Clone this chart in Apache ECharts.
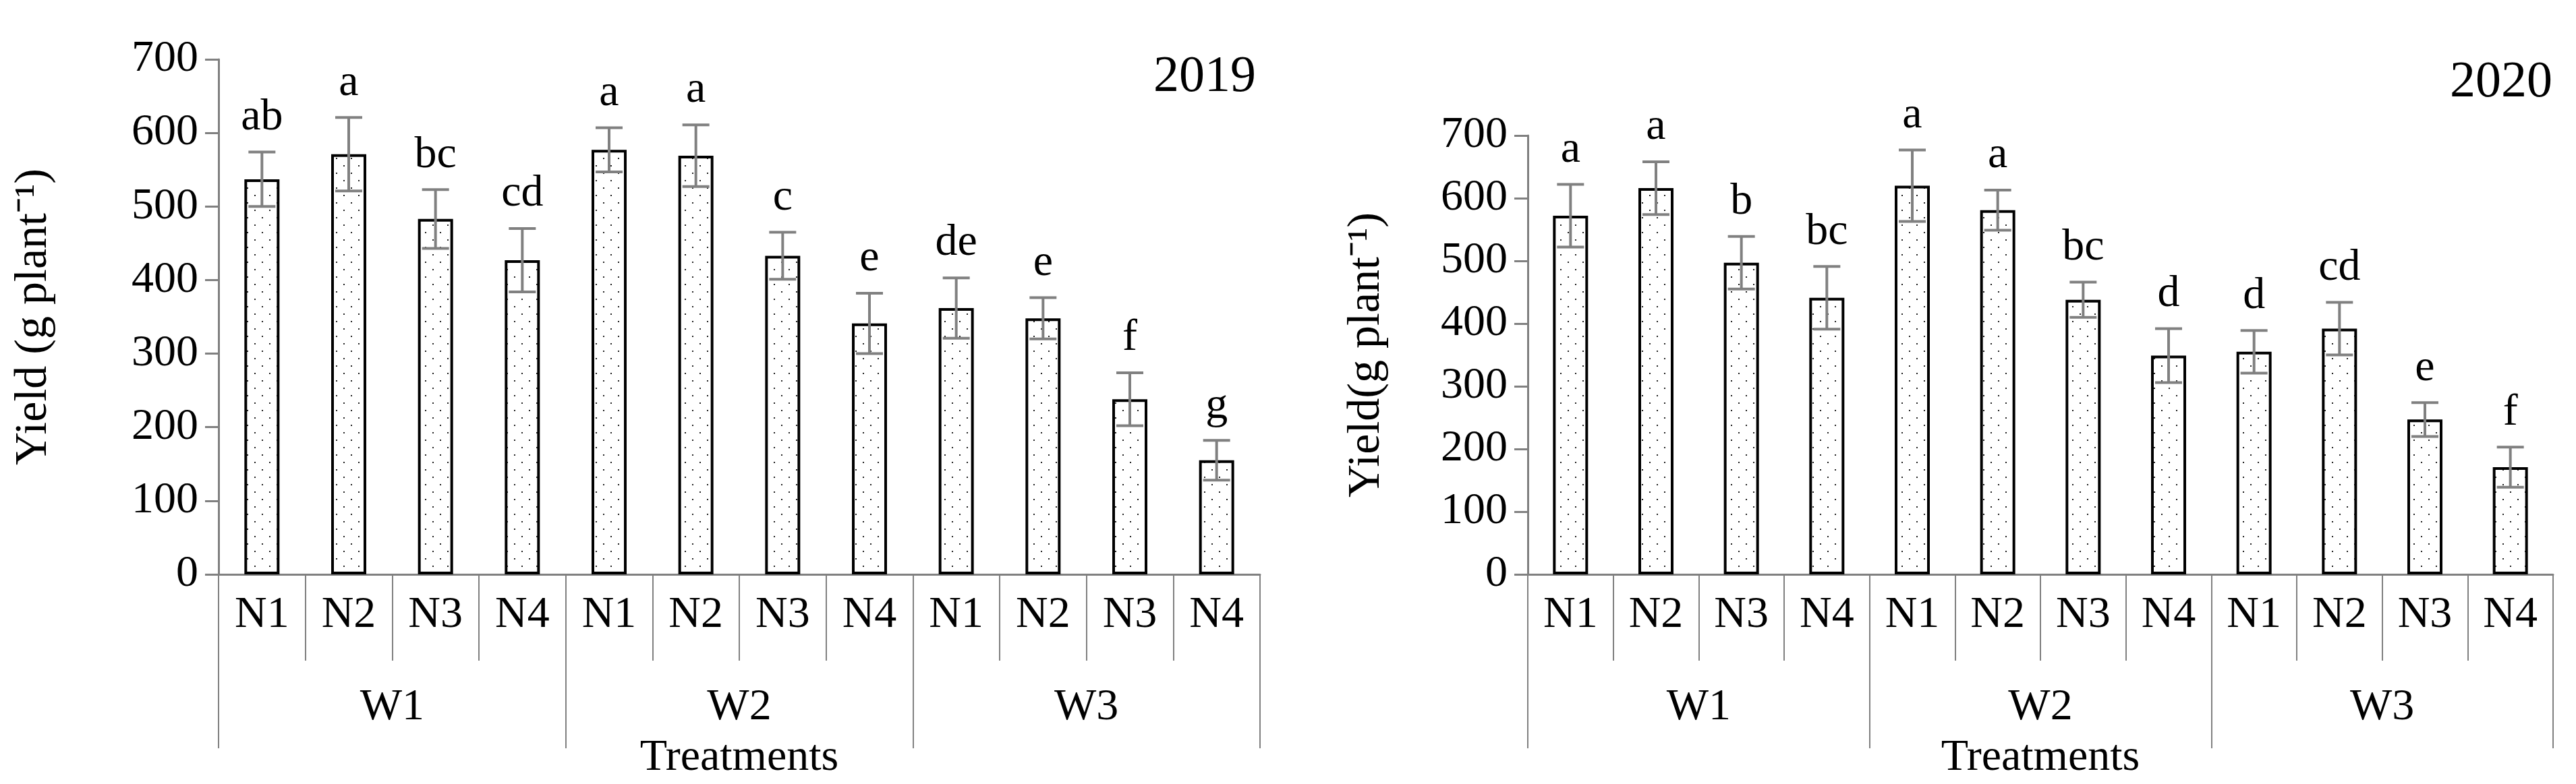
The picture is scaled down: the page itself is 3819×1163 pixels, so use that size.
<!DOCTYPE html>
<html><head><meta charset="utf-8">
<script src="https://cdn.jsdelivr.net/npm/echarts@6/dist/echarts.min.js"></script>
<style>html,body{margin:0;background:#fff}#c{width:3819px;height:1163px}</style>
</head><body><div id="c"></div>
<script>
const nLabels = ['N1','N2','N3','N4','N1','N2','N3','N4','N1','N2','N3','N4'];
const wLabels = ['W1','W2','W3'];
const y2019 = [537,571,483,427,577,569,433,341,362,348,238,155];
const e2019 = [37,50,40,43,30,42,32,41,41,28,36,27];
const l2019 = ['ab','a','bc','cd','a','a','c','e','de','e','f','g'];
const y2020 = [572,616,497,441,620,581,438,349,355,392,247,171];
const e2020 = [50,42,42,50,57,32,28,43,34,42,27,32];
const l2020 = ['a','a','b','bc','a','a','bc','d','d','cd','e','f'];

const FONT = 'Liberation Serif';
const FS = 66;
const pat = document.createElement('canvas');
pat.width = 22; pat.height = 22;
const pc = pat.getContext('2d');
pc.fillStyle = '#fff'; pc.fillRect(0,0,22,22);
pc.fillStyle = '#222'; pc.fillRect(3,3,2,2); pc.fillRect(14,14,2,2);

const chart = echarts.init(document.getElementById('c'));
const grids = [
  {left:324, right:1951, top:88, bottom:308},
  {left:2265, right:34, top:201, bottom:295}
];
const xAxis = [], yAxis = [], series = [];
[[y2019,e2019,l2019,'Yield (g plant⁻¹)'],[y2020,e2020,l2020,'Yield(g plant⁻¹)']].forEach((d,i)=>{
  xAxis.push({type:'category', gridIndex:i, data:nLabels, boundaryGap:true,
    axisLine:{show:true, lineStyle:{color:'#808080',width:3}},
    axisTick:{show:true, interval:0, length:128, lineStyle:{color:'#808080',width:2}},
    axisLabel:{show:true, interval:0, fontFamily:FONT, fontSize:FS, color:'#000', margin:28}});
  xAxis.push({type:'category', gridIndex:i, data:wLabels, position:'bottom', boundaryGap:true,
    axisLine:{show:false},
    axisTick:{show:true, interval:0, length:258, lineStyle:{color:'#808080',width:2}},
    axisLabel:{show:true, fontFamily:FONT, fontSize:FS, color:'#000', margin:165},
    name:'Treatments', nameLocation:'middle', nameGap:240,
    nameTextStyle:{fontFamily:FONT, fontSize:FS, color:'#000'}});
  yAxis.push({type:'value', gridIndex:i, min:0, max:700, interval:100,
    splitLine:{show:false},
    axisLine:{show:true, lineStyle:{color:'#808080',width:3}},
    axisTick:{show:true, length:20, lineStyle:{color:'#808080',width:3}},
    axisLabel:{fontFamily:FONT, fontSize:FS, color:'#000', margin:30},
    name:d[3], nameLocation:'middle', nameGap:i===0?240:205,
    nameTextStyle:{fontFamily:FONT, fontSize:68, color:'#000'}});
  series.push({type:'bar', xAxisIndex:i*2, yAxisIndex:i, data:d[0], barWidth:52,
    itemStyle:{color:{image:pat, repeat:'repeat'}, borderColor:'#000', borderWidth:4}});
  series.push({type:'custom', xAxisIndex:i*2, yAxisIndex:i,
    data:d[0].map((v,k)=>[k,v,d[1][k]]), z:5,
    renderItem:(p,api)=>{
      const x = api.coord([api.value(0),0])[0];
      const hi = api.coord([api.value(0),api.value(1)+api.value(2)])[1];
      const lo = api.coord([api.value(0),api.value(1)-api.value(2)])[1];
      const st = {stroke:'#808080', lineWidth:4};
      return {type:'group', children:[
        {type:'line', shape:{x1:x,y1:hi,x2:x,y2:lo}, style:st},
        {type:'line', shape:{x1:x-20,y1:hi,x2:x+20,y2:hi}, style:st},
        {type:'line', shape:{x1:x-20,y1:lo,x2:x+20,y2:lo}, style:st},
        {type:'text', x:x, y:hi-18, style:{text:d[2][api.value(0)] ?? '', fill:'#000',
          font:FS+'px "'+FONT+'"', align:'center', verticalAlign:'bottom'}}
      ]};
    }});
});
chart.setOption({
  animation:false,
  grid:grids, xAxis, yAxis, series,
  title:[
    {text:'2019', right:1952, top:72, textStyle:{fontFamily:FONT, fontSize:76, fontWeight:'normal', color:'#000'}},
    {text:'2020', right:30, top:80, textStyle:{fontFamily:FONT, fontSize:76, fontWeight:'normal', color:'#000'}}
  ]
});
</script></body></html>
